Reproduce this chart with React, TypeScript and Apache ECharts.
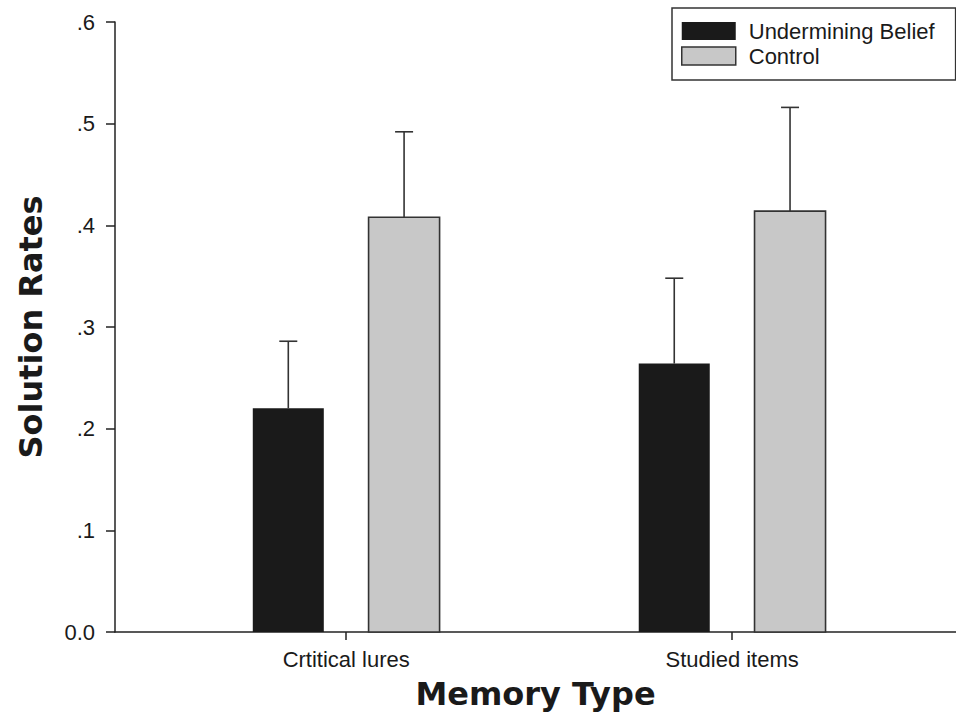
import React, { useEffect, useRef } from "react";
import * as echarts from "echarts";

const categories = ["Crtitical lures", "Studied items"];
const seriesNames = ["Undermining Belief", "Control"];
const underminingMeans = [0.22, 0.264];
const underminingErrors = [0.066, 0.084];
const controlMeans = [0.408, 0.414];
const controlErrors = [0.084, 0.102];
const yTickLabels = ["0.0", ".1", ".2", ".3", ".4", ".5", ".6"];

const FONT = "'Liberation Sans', Arial, Helvetica, sans-serif";
const TITLE_FONT = "'DejaVu Sans', 'Liberation Sans', Arial, sans-serif";
const AXIS_COLOR = "#222";
const BAR_W = 0.184; // in x-axis units
const OFFSET = 0.15;

function makeRenderer(offset: number, fill: string, stroke: string | null) {
  return (params: any, api: any) => {
    const i = api.value(0);
    const v = api.value(1);
    const e = api.value(2);
    const cx = i + 1 + offset;
    const base = api.coord([cx, 0]);
    const top = api.coord([cx, v]);
    const etop = api.coord([cx, v + e]);
    const w = api.size([BAR_W, 0])[0];
    const capHalf = 9;
    return {
      type: "group",
      children: [
        {
          type: "rect",
          shape: { x: base[0] - w / 2, y: top[1], width: w, height: base[1] - top[1] },
          style: stroke
            ? { fill, stroke, lineWidth: 1.6 }
            : { fill, stroke: fill, lineWidth: 0 },
        },
        {
          type: "line",
          shape: { x1: top[0], y1: top[1], x2: etop[0], y2: etop[1] },
          style: { stroke: "#333", lineWidth: 1.6 },
        },
        {
          type: "line",
          shape: { x1: etop[0] - capHalf, y1: etop[1], x2: etop[0] + capHalf, y2: etop[1] },
          style: { stroke: "#333", lineWidth: 1.6 },
        },
      ],
    };
  };
}

export default function App() {
  const ref = useRef<HTMLDivElement>(null);
  useEffect(() => {
    if (!ref.current) return;
    const chart = echarts.init(ref.current, null, { renderer: "svg" });
    const undData = categories.map((_, i) => [i, underminingMeans[i], underminingErrors[i]]);
    const conData = categories.map((_, i) => [i, controlMeans[i], controlErrors[i]]);
    chart.setOption({
      animation: false,
      backgroundColor: "#fff",
      textStyle: { fontFamily: FONT },
      grid: { left: 115, right: 0, top: 22, bottom: 94, containLabel: false },
      legend: {
        orient: "vertical",
        left: 672,
        top: 8,
        padding: [12, 21, 13, 9],
        itemWidth: 54,
        itemHeight: 18,
        itemGap: 3,
        borderColor: "#333",
        borderWidth: 1.5,
        borderRadius: 0,
        textStyle: { fontSize: 22, color: "#1a1a1a", fontFamily: FONT, lineHeight: 22, padding: [0, 0, 0, 8] },
        data: [
          { name: seriesNames[0], icon: "rect", itemStyle: { color: "#1a1a1a", borderWidth: 0 } },
          { name: seriesNames[1], icon: "rect", itemStyle: { color: "#c8c8c8", borderColor: "#333", borderWidth: 1.5 } },
        ],
      },
      xAxis: {
        type: "value",
        min: 0.401,
        max: 2.58,
        name: "Memory Type",
        nameLocation: "middle",
        nameGap: 46,
        nameTextStyle: { fontSize: 32, fontWeight: "bold", fontFamily: TITLE_FONT, color: "#1a1a1a" },
        axisLine: { show: true, lineStyle: { color: AXIS_COLOR, width: 1.5 } },
        axisTick: { show: true, inside: false, length: 8, customValues: [1, 2], lineStyle: { color: AXIS_COLOR, width: 1.5 } },
        axisLabel: {
          customValues: [1, 2],
          margin: 16,
          fontSize: 22,
          color: "#1a1a1a",
          fontFamily: FONT,
          formatter: (v: number) => categories[Math.round(v) - 1] ?? "",
        },
        splitLine: { show: false },
      },
      yAxis: {
        type: "value",
        min: 0,
        max: 0.6,
        interval: 0.1,
        name: "Solution Rates",
        nameLocation: "middle",
        nameGap: 68,
        nameTextStyle: { fontSize: 32, fontWeight: "bold", fontFamily: TITLE_FONT, color: "#1a1a1a" },
        axisLine: { show: true, lineStyle: { color: AXIS_COLOR, width: 1.5 } },
        axisTick: { show: true, inside: false, length: 9, lineStyle: { color: AXIS_COLOR, width: 1.5 } },
        axisLabel: {
          margin: 20,
          fontSize: 22,
          color: "#1a1a1a",
          fontFamily: FONT,
          formatter: (v: number) => yTickLabels[Math.round(v * 10)] ?? "",
        },
        splitLine: { show: false },
      },
      series: [
        {
          name: seriesNames[0],
          type: "custom",
          renderItem: makeRenderer(-OFFSET, "#1a1a1a", null),
          itemStyle: { color: "#1a1a1a" },
          encode: { x: 0, y: 1 },
          data: undData,
          z: 2,
        },
        {
          name: seriesNames[1],
          type: "custom",
          renderItem: makeRenderer(OFFSET, "#c8c8c8", "#333"),
          itemStyle: { color: "#c8c8c8", borderColor: "#333", borderWidth: 1.5 },
          encode: { x: 0, y: 1 },
          data: conData,
          z: 2,
        },
      ],
    });
    return () => chart.dispose();
  }, []);
  return (
    <div
      ref={ref}
      style={{ position: "fixed", left: 0, top: 0, width: 956, height: 726, background: "#fff" }}
    />
  );
}
